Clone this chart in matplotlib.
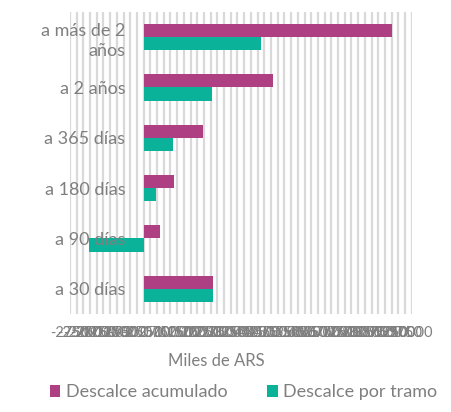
import numpy as np
import matplotlib.pyplot as plt

# Data (miles de ARS)
categorias = ["a más de 2\naños", "a 2 años", "a 365 días", "a 180 días", "a 90 días", "a 30 días"]
acumulado = [9245, 4820, 2230, 1115, 595, 2590]
por_tramo = [4387, 2540, 1080, 472, -2033, 2590]
ticks = np.arange(-2750, 10001, 250)

color_acum = "#AE3F82"
color_tramo = "#0AB29A"
gris = "#7F7F7F"

plt.rcParams['font.family'] = ['Lato', 'DejaVu Sans']

fig = plt.figure(figsize=(4.51, 4.12), dpi=100)
ax = fig.add_axes([0.155, 0.238, 0.758, 0.733])

y = np.arange(len(categorias))
h = 0.26

ax.barh(y - h / 2, acumulado, height=h, color=color_acum,
        label="Descalce acumulado", zorder=2)
ax.barh(y + h / 2, por_tramo, height=h, color=color_tramo,
        label="Descalce por tramo", zorder=2)

ax.set_ylim(len(categorias) - 0.5, -0.5)
ax.set_xlim(-2750, 10000)

ax.set_xticks(ticks)
ax.set_xticklabels([str(t) for t in ticks], fontsize=10.5, color=gris)
ax.xaxis.grid(True, color="#D9D9D9", linewidth=1.6, zorder=0)
ax.set_axisbelow(True)

ax.set_yticks(y)
ax.set_yticklabels(categorias, fontsize=13, color=gris, ha="right",
                   multialignment="right", linespacing=1.3)
ax.tick_params(axis="y", length=0, pad=-40)
ax.tick_params(axis="x", length=0, pad=9)
# category labels sit on top of the bars
ax.yaxis.set_zorder(5)

for s in ax.spines.values():
    s.set_visible(False)

ax.set_xlabel("Miles de ARS", fontsize=12, color=gris)
ax.xaxis.set_label_coords(0.427, -0.13)

fig.legend(loc="center", bbox_to_anchor=(0.54, 0.048), ncol=2,
           frameon=False, fontsize=13, labelcolor=gris,
           handlelength=0.6, handleheight=0.6, handletextpad=0.3,
           columnspacing=2.2)

plt.savefig("out.png", dpi=100)
